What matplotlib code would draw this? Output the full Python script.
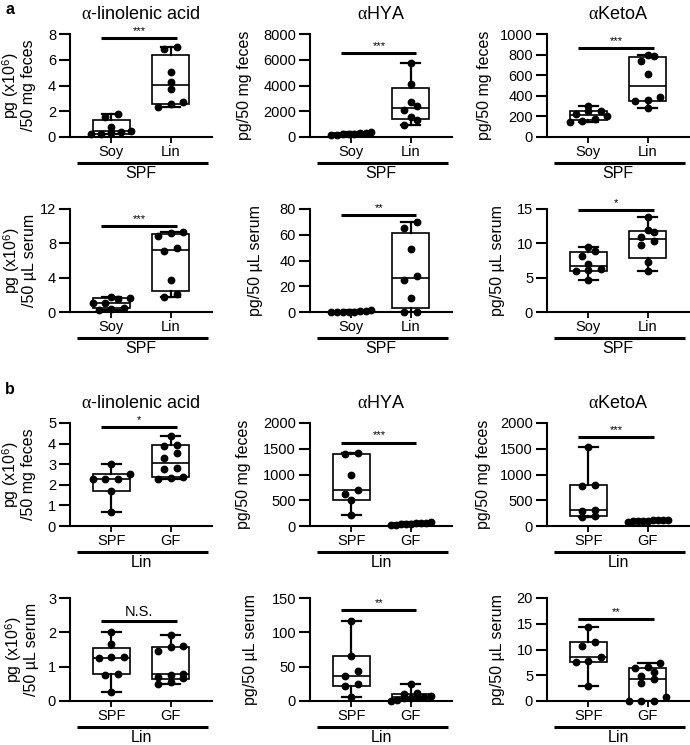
import numpy as np
import matplotlib
matplotlib.use('Agg')
import matplotlib.pyplot as plt

plt.rcParams['font.family'] = ['Liberation Sans', 'DejaVu Sans']
plt.rcParams['mathtext.fontset'] = 'custom'
plt.rcParams['mathtext.rm'] = 'Liberation Sans'
plt.rcParams['mathtext.it'] = 'Liberation Serif'
plt.rcParams['mathtext.bf'] = 'Liberation Sans:bold'

# ---- panel a: Soy vs Lin diet, SPF mice ----
soy_ala_feces = [1.75, 1.55, 0.75, 0.5, 0.4, 0.3, 0.25, 0.2]
lin_ala_feces = [7.0, 6.8, 5.05, 4.3, 3.75, 2.75, 2.55, 2.35]
soy_hya_feces = [350, 300, 280, 250, 220, 200, 180, 150]
lin_hya_feces = [5750, 4150, 2700, 2400, 2100, 1550, 1350, 950]
soy_keto_feces = [305, 255, 250, 225, 205, 170, 160, 150]
lin_keto_feces = [800, 790, 740, 615, 385, 360, 345, 285]
soy_ala_serum = [1.8, 1.6, 1.5, 1.1, 1.0, 0.5, 0.4, 0.2]
lin_ala_serum = [9.35, 9.2, 8.9, 7.4, 7.1, 3.7, 2.1, 1.8]
soy_hya_serum = [1.2, 0.8, 0.5, 0.3, 0.2, 0.1, 0.1, 0.0]
lin_hya_serum = [70, 65.5, 49, 28, 25, 11, 0, 0]
soy_keto_serum = [9.4, 8.9, 8.2, 7.0, 6.3, 6.1, 6.0, 4.7]
lin_keto_serum = [13.8, 11.9, 11.7, 10.9, 10.4, 9.7, 7.3, 6.0]

# ---- panel b: SPF vs GF mice, Lin diet ----
spf_ala_feces = [3.0, 2.54, 2.3, 2.3, 2.3, 1.72, 0.68]
gf_ala_feces = [4.35, 3.95, 3.9, 3.55, 3.3, 2.8, 2.75, 2.4, 2.35, 2.3]
spf_hya_feces = [1420, 1390, 990, 700, 620, 500, 210]
gf_hya_feces = [75, 60, 55, 50, 45, 40, 30, 20, 10]
spf_keto_feces = [1540, 800, 770, 310, 300, 190, 180]
gf_keto_feces = [125, 120, 115, 110, 105, 100, 95, 90, 85]
spf_ala_serum = [2.0, 1.65, 1.28, 1.27, 1.26, 0.79, 0.77, 0.27]
gf_ala_serum = [1.93, 1.6, 1.58, 1.47, 0.8, 0.77, 0.7, 0.66, 0.55, 0.5]
spf_hya_serum = [116, 66, 44, 36, 25, 22, 6]
gf_hya_serum = [25, 12, 10, 7, 6, 5.5, 4.5, 4, 1, 0.5]
spf_keto_serum = [14.3, 11.4, 10.6, 8.6, 7.7, 7.6, 3.0]
gf_keto_serum = [7.3, 6.6, 6.4, 5.7, 4.9, 4.2, 3.5, 0.8, 0, 0, 0]

titles = [r'$\alpha$-linolenic acid', r'$\alpha$HYA', r'$\alpha$KetoA']
label_big_feces = 'pg (x10$^6$)\n/50 mg feces'
label_big_serum = 'pg (x10$^6$)\n/50 \u00b5L serum'
label_feces = 'pg/50 mg feces'
label_serum = 'pg/50 \u00b5L serum'

cats_a = ['Soy', 'Lin']
cats_b = ['SPF', 'GF']

panels = [
    # data pair, yticks, ylabel, sig text, sig height
    ((soy_ala_feces, lin_ala_feces), [0, 2, 4, 6, 8], label_big_feces, '***', 7.7),
    ((soy_hya_feces, lin_hya_feces), [0, 2000, 4000, 6000, 8000], label_feces, '***', 6550),
    ((soy_keto_feces, lin_keto_feces), [0, 200, 400, 600, 800, 1000], label_feces, '***', 860),
    ((soy_ala_serum, lin_ala_serum), [0, 4, 8, 12], label_big_serum, '***', 10.0),
    ((soy_hya_serum, lin_hya_serum), [0, 20, 40, 60, 80], label_serum, '**', 75.4),
    ((soy_keto_serum, lin_keto_serum), [0, 5, 10, 15], label_serum, '*', 14.85),
    ((spf_ala_feces, gf_ala_feces), [0, 1, 2, 3, 4, 5], label_big_feces, '*', 4.79),
    ((spf_hya_feces, gf_hya_feces), [0, 500, 1000, 1500, 2000], label_feces, '***', 1620),
    ((spf_keto_feces, gf_keto_feces), [0, 500, 1000, 1500, 2000], label_feces, '***', 1720),
    ((spf_ala_serum, gf_ala_serum), [0, 1, 2, 3], label_big_serum, 'N.S.', 2.32),
    ((spf_hya_serum, gf_hya_serum), [0, 50, 100, 150], label_serum, '**', 133),
    ((spf_keto_serum, gf_keto_serum), [0, 5, 10, 15, 20], label_serum, '**', 15.9),
]

label_x = [-0.366, -0.46, -0.437, -0.36, -0.385, -0.35,
           -0.366, -0.47, -0.45, -0.345, -0.42, -0.35]

W, H = 690, 745
col_left = [70, 310, 547]
row_bottom = [137, 312, 526, 701]
ax_w, ax_h = 142, 103
px_per_unit = ax_w / 2.4


def box_stats(vals):
    v = np.asarray(vals, float)
    q1, med, q3 = np.percentile(v, [25, 50, 75], method='weibull')
    return dict(med=med, q1=q1, q3=q3, whislo=v.min(), whishi=v.max())


def spread(vals, ymax, thresh=6.0, step=12.5, maxw=40.0):
    # put points that sit at about the same height side by side
    v = np.asarray(vals, float)
    scale = ax_h / ymax
    order = np.argsort(v, kind='stable')
    offs = np.zeros(len(v))
    rows, cur = [], [order[0]]
    for i in order[1:]:
        if (v[i] - v[cur[0]]) * scale < thresh:
            cur.append(i)
        else:
            rows.append(cur)
            cur = [i]
    rows.append(cur)
    for r in rows:
        k = len(r)
        if k > 1:
            s = min(step, maxw / (k - 1))
            for j, idx in enumerate(r):
                offs[idx] = (j - (k - 1) / 2) * s
    return offs / px_per_unit


fig = plt.figure(figsize=(W / 100, H / 100), dpi=100)

for n, (pair, yticks, ylabel, sig, sig_y) in enumerate(panels):
    row, col = divmod(n, 3)
    ax = fig.add_axes([col_left[col] / W, 1 - row_bottom[row] / H, ax_w / W, ax_h / H])
    ymax = yticks[-1]
    ax.set_xlim(-0.7, 1.7)
    ax.set_ylim(0, ymax)

    ax.bxp([box_stats(v) for v in pair], positions=[0, 1], widths=0.63,
           showfliers=False, patch_artist=True,
           boxprops=dict(facecolor='white', edgecolor='black', linewidth=1.2),
           whiskerprops=dict(color='black', linewidth=1.6),
           capprops=dict(color='black', linewidth=1.6),
           medianprops=dict(color='black', linewidth=1.2))
    for pos, vals in enumerate(pair):
        ax.plot(pos + spread(vals, ymax), vals, 'o', color='black', ms=4.6,
                clip_on=False, zorder=4)

    for s in ['top', 'right']:
        ax.spines[s].set_visible(False)
    for s in ['left', 'bottom']:
        ax.spines[s].set_linewidth(1.5)
    ax.set_yticks(yticks)
    ax.set_xticks([0, 1])
    ax.set_xticklabels(cats_a if row < 2 else cats_b)
    ax.tick_params(axis='y', length=8, width=1.5, pad=2, labelsize=10.5)
    ax.tick_params(axis='x', length=4, width=1.3, pad=2, labelsize=10.5)

    ax.set_ylabel(ylabel, fontsize=11.5, linespacing=1.05)
    ax.yaxis.label.set_verticalalignment('center')
    ax.yaxis.set_label_coords(label_x[n], 0.5)

    # significance bar
    ax.plot([-0.17, 1.1], [sig_y, sig_y], color='black', lw=2.2,
            clip_on=False, solid_capstyle='butt')
    ax.annotate(sig, xy=(0.465, sig_y), xytext=(0, 1.5), textcoords='offset points',
                ha='center', va='bottom', fontsize=8 if sig != 'N.S.' else 10.5)

    # group bar under the categories
    ax.plot([0.05, 0.97], [-0.25, -0.25], transform=ax.transAxes, color='black',
            lw=2.2, clip_on=False, solid_capstyle='butt')
    ax.text(0.5, -0.355, 'SPF' if row < 2 else 'Lin', transform=ax.transAxes,
            ha='center', va='center', fontsize=11.5)

    if row in (0, 2):
        ax.text(0.5, 1.19, titles[col], transform=ax.transAxes,
                ha='center', va='center', fontsize=13)

fig.text(5 / W, 1 - 9 / H, 'a', fontsize=11.5, fontweight='bold', va='center')
fig.text(5 / W, 1 - 389 / H, 'b', fontsize=11.5, fontweight='bold', va='center')

fig.savefig('out.png', dpi=100)
